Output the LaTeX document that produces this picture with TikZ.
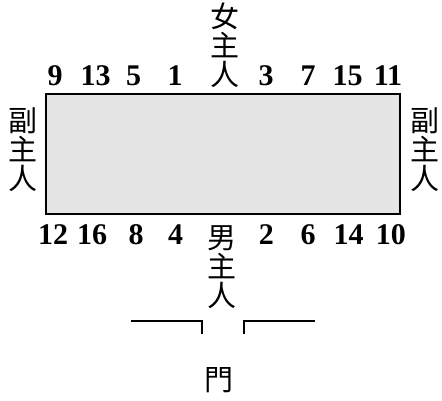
\documentclass[tikz,border=0pt]{standalone}
\usepackage{fontspec}
\setmainfont{Liberation Serif}
\newfontfamily\cjk{Noto Sans CJK TC}
\newcommand\cjkstack{\cjk\fontsize{29}{29}\selectfont\lineskiplimit=-100pt\relax}
\definecolor{tablegray}{HTML}{E5E5E5}
\begin{document}
\begin{tikzpicture}[x=1pt,y=-1pt,
  num/.style={font=\bfseries\fontsize{30}{30}\selectfont, anchor=base, inner sep=0pt},
  cjklabel/.style={font=\cjkstack, align=center, inner sep=0pt},
  wall/.style={line width=1.8pt}]
\useasboundingbox (0,0) rectangle (442,400);
\draw[fill=tablegray, line width=1.8pt] (46,94) rectangle (400,214);
% top numbers
\node[num] (t9) at (55,85) {9};
\node[num] (t13) at (95.5,85) {13};
\node[num] (t5) at (133.7,85) {5};
\node[num] (t1) at (175,85) {1};
\node[num] (t3) at (266,85) {3};
\node[num] (t7) at (308,85) {7};
\node[num] (t15) at (347.5,85) {15};
\node[num] (t11) at (388,85) {11};
% bottom numbers
\node[num] (b12) at (53,244) {12};
\node[num] (b16) at (92,244) {16};
\node[num] (b8) at (136,244) {8};
\node[num] (b4) at (175.7,244) {4};
\node[num] (b2) at (266.3,244) {2};
\node[num] (b6) at (308,244) {6};
\node[num] (b14) at (348.5,244) {14};
\node[num] (b10) at (390.8,244) {10};
% people
\node[cjklabel] (hostess) at (224.5,45) {女\\主\\人};
\node[cjklabel] (host) at (222,267.5) {男\\主\\人};
\node[cjklabel] (lvice) at (23.5,150) {副\\主\\人};
\node[cjklabel] (rvice) at (424.5,150) {副\\主\\人};
\node[cjklabel] (door) at (218.5,380) {門};
% door walls
\draw[wall] (131,320.7) -- (201.7,320.7) -- (201.7,334);
\draw[wall] (244,334) -- (244,320.7) -- (315,320.7);
\end{tikzpicture}
\end{document}
